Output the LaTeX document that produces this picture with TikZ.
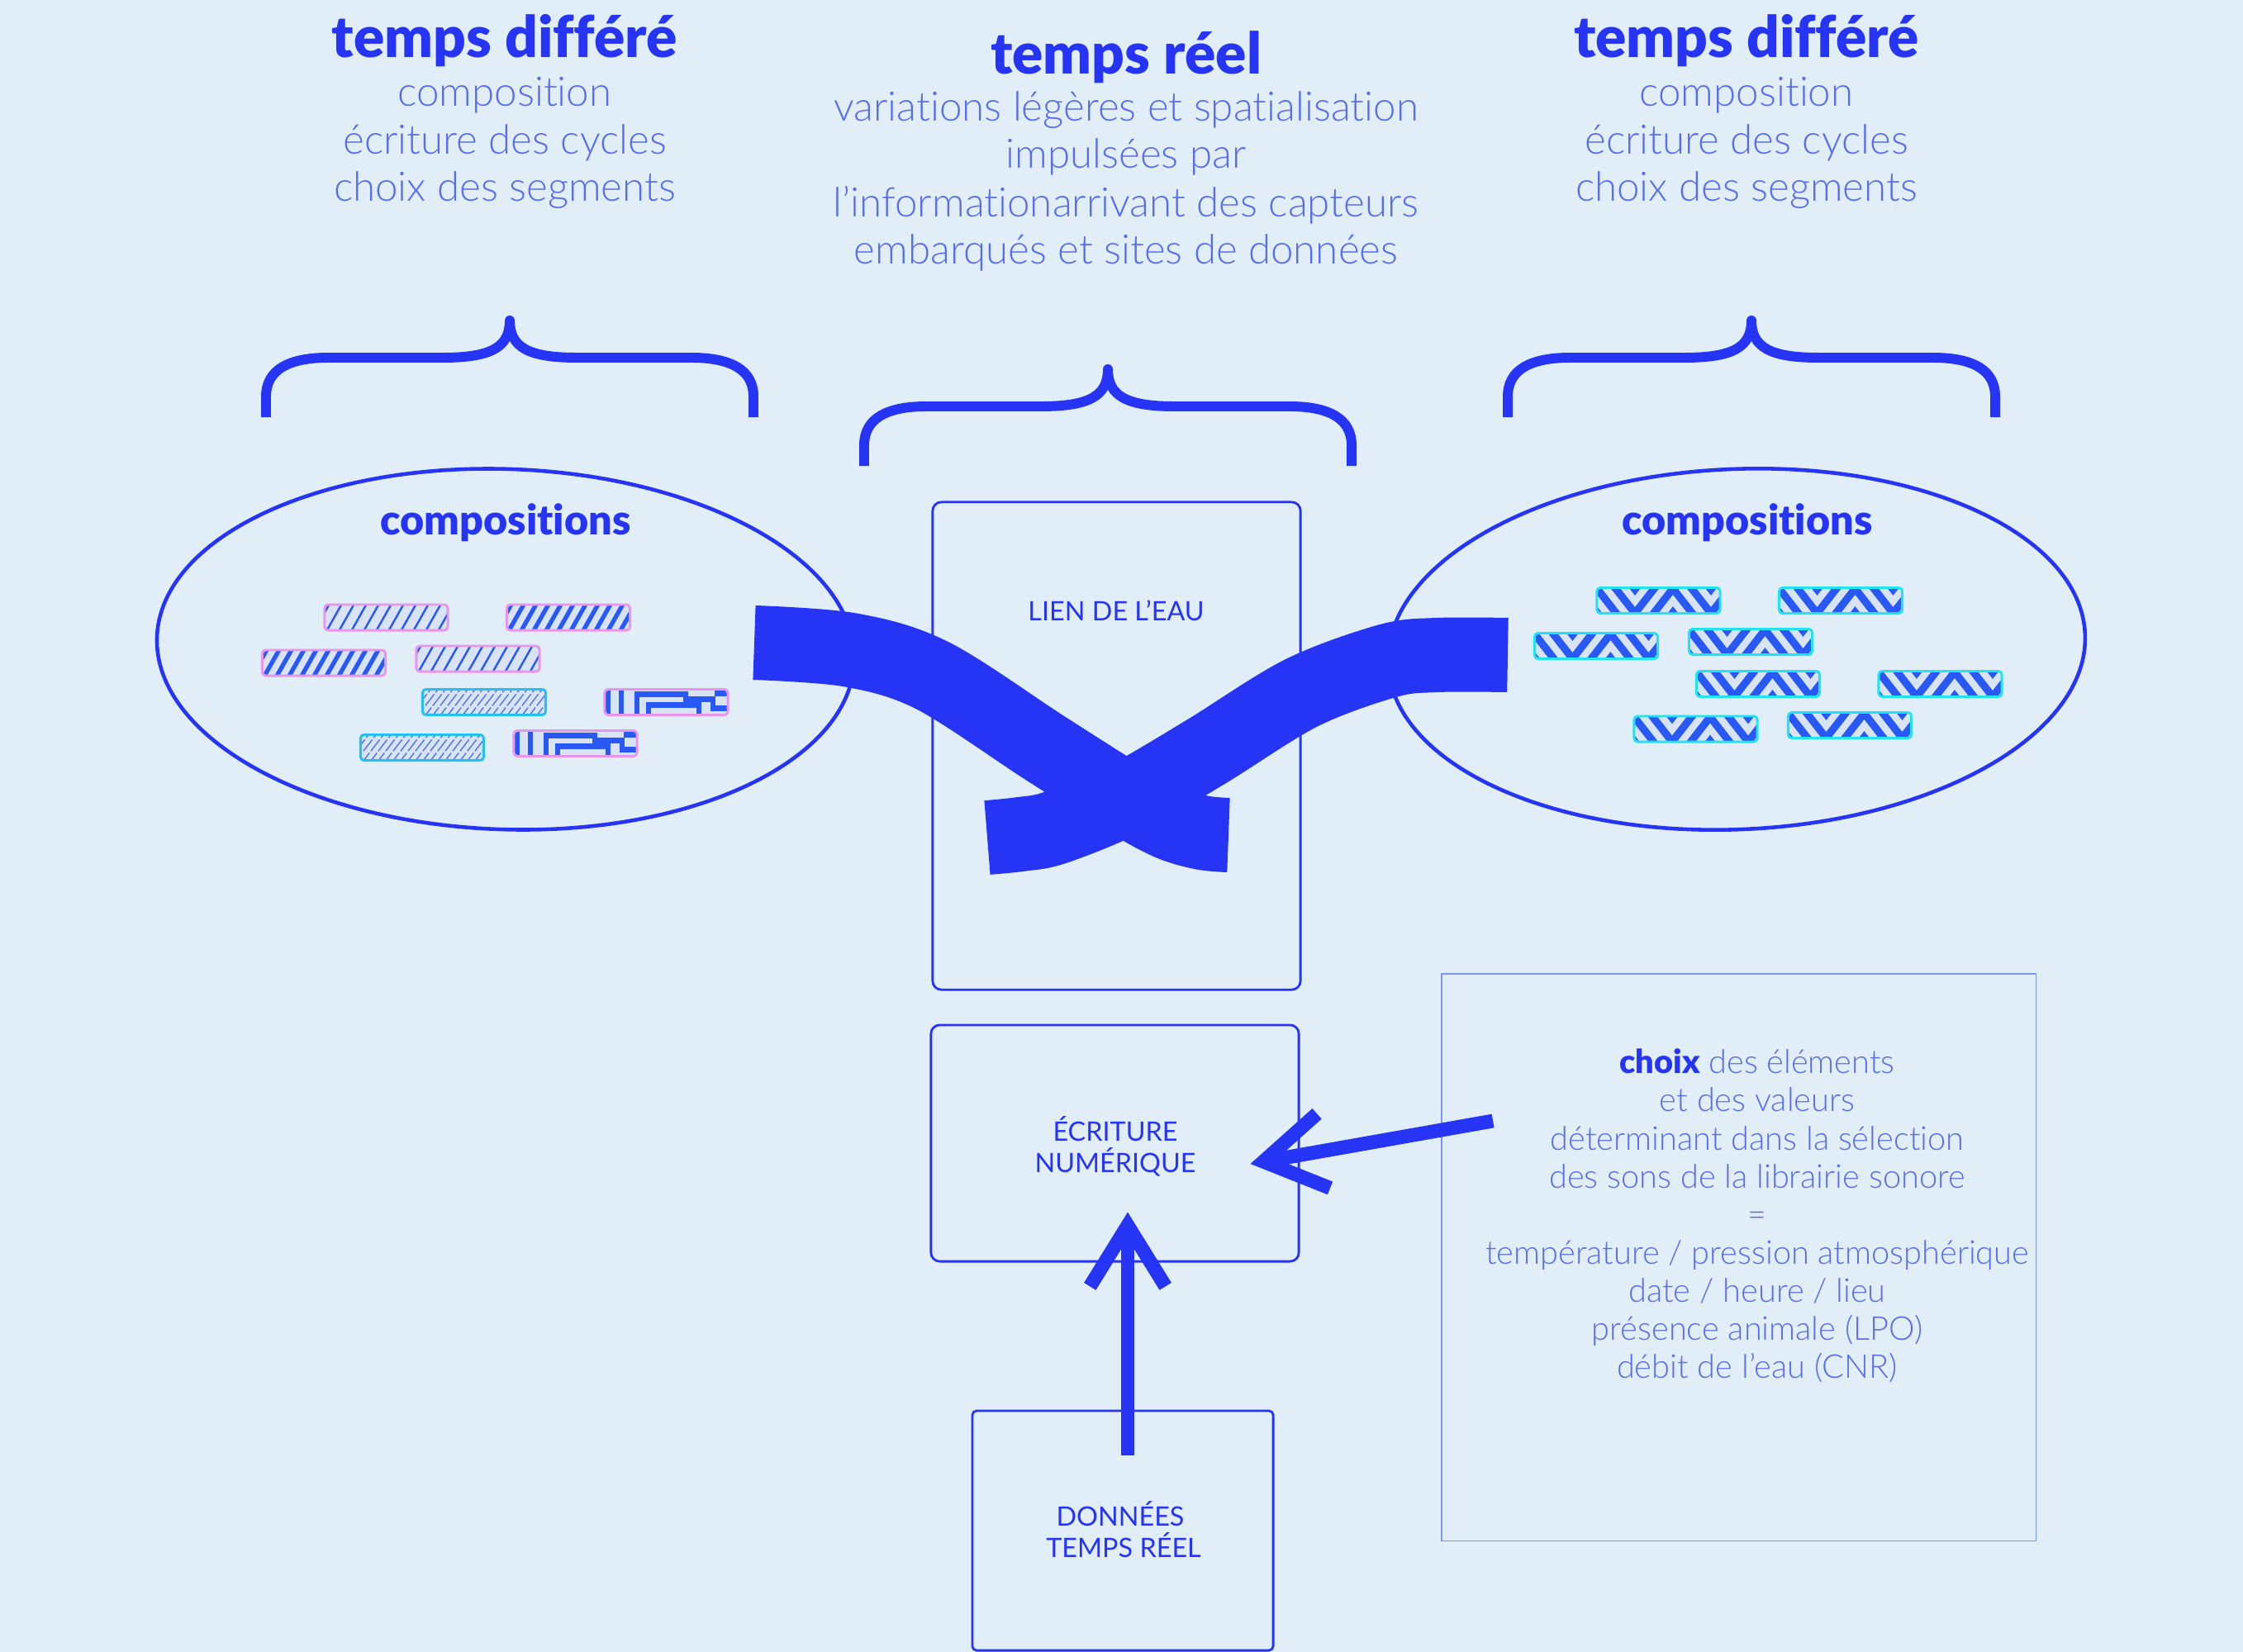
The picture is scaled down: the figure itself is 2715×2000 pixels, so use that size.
\documentclass[tikz,border=0pt]{standalone}
\usepackage{fontspec}
\setmainfont{Lato}[Ligatures=NoCommon]
\newfontfamily\lightfont{Lato Light}[Ligatures=NoCommon]
\newfontfamily\heavyfont{Lato Black}[Ligatures=NoCommon]
\usetikzlibrary{arrows.meta,shapes.geometric}
\definecolor{bgc}{RGB}{225,238,247}
\definecolor{mainblue}{RGB}{38,52,246}
\definecolor{lighttext}{RGB}{88,108,241}
\definecolor{infoborder}{RGB}{128,148,240}
\definecolor{pblue}{RGB}{40,88,245}
\definecolor{pblue2}{RGB}{80,118,238}
\definecolor{pinkb}{RGB}{232,150,236}
\definecolor{cyanb}{RGB}{38,192,240}
\definecolor{turq}{RGB}{34,228,240}
\definecolor{boxfill}{RGB}{216,228,246}
% pattern drawing codes (coordinates relative to the box's north west corner, y downwards)
\newcommand\thinpat{\foreach \k in {-3,...,11} \draw[pblue,line width=0.7pt] ({\k*15},36) -- ++(22,-39);}
\newcommand\thickpat{\foreach \k in {-3,...,11} \draw[pblue,line width=1.5pt] ({\k*15},36) -- ++(22,-39);}
\newcommand\roughpat{\foreach \k in {-5,...,17} \draw[pblue2,line width=0.4pt,dash pattern=on 5pt off 0.8pt] ({\k*9},36) -- ++(30,-39);}
\newcommand\mazepat{\begin{scope}[pblue,line width=1.8pt]
    \draw (4,-2) -- (4,36);
    \draw (20,-2) -- (20,36);
    \draw (39,36) -- (39,6) -- (98,6) -- (98,12) -- (131,12) -- (131,23) -- (156,23);
    \draw (53,36) -- (53,19) -- (114,19) -- (114,36);
    \draw (136,-2) -- (136,5) -- (156,5);
    \end{scope}}
\newcommand\zigpat{\foreach \n in {-1,0,1,2} \draw[pblue,line width=2.6pt] (-46,{31+29*\n}) -- (0,{-28+29*\n}) -- (46,{31+29*\n}) -- (92,{-28+29*\n}) -- (138,{31+29*\n}) -- (184,{-28+29*\n});}
% #1 node name, #2 position, #3 border colour, #4 pattern
\newcommand\drawpatbox[4]{%
  \node[patbox] (#1) at #2 {};
  \begin{scope}
    \clip[rounded corners=1.2pt] (#1.south west) rectangle (#1.north east);
    \begin{scope}[shift={(#1.north west)}] #4 \end{scope}
  \end{scope}
  \draw[draw=#3,line width=0.85pt,rounded corners=1.2pt] (#1.south west) rectangle (#1.north east);
}
\begin{document}
\begin{tikzpicture}[x=0.01cm,y=-0.01cm,
  hbold/.style={text=mainblue,font=\heavyfont\fontsize{19.7}{23}\selectfont,inner sep=0pt,anchor=base},
  subline/.style={text=lighttext,font=\lightfont\fontsize{14}{17}\selectfont,inner sep=0pt,anchor=base},
  compo/.style={text=mainblue,font=\heavyfont\fontsize{14.3}{17}\selectfont,inner sep=0pt,anchor=base},
  boxlabel/.style={text=mainblue,font=\fontsize{9.2}{11}\selectfont,inner sep=0pt,anchor=base},
  infoline/.style={text=lighttext,font=\lightfont\fontsize{11.3}{13}\selectfont,inner sep=0pt,anchor=base},
  bracestyle/.style={draw=mainblue,line width=3.4pt,line cap=butt,line join=round},
  bracepic/.pic={\draw[bracestyle] (-295,117) -- (-295,92) .. controls (-295,60) and (-268,45) .. (-220,45) -- (-81,45) .. controls (-22,45) and (0,32) .. (0,0) .. controls (0,32) and (22,45) .. (81,45) -- (220,45) .. controls (268,45) and (295,60) .. (295,92) -- (295,117);},
  ell/.style={ellipse,draw=mainblue,line width=1.3pt,minimum width=8.44cm,minimum height=4.36cm,inner sep=0pt},
  bigbox/.style={rectangle,draw=mainblue,line width=0.8pt,rounded corners=3pt,inner sep=0pt},
  patbox/.style={rectangle,minimum width=1.49cm,minimum height=0.31cm,inner sep=0pt,outer sep=0pt,fill=boxfill,rounded corners=1.2pt},
  bandstyle/.style={draw=mainblue,line width=25.6pt,line cap=butt,line join=round},
  bigarrow/.style={draw=mainblue,line width=4.8pt,-{Straight Barb[length=21pt,width=26pt]}}
]
\fill[bgc] (0,0) rectangle (2715,2000);
\useasboundingbox (0,0) rectangle (2715,2000);

% braces
\pic at (617,388) {bracepic};
\pic at (1341,447) {bracepic};
\pic at (2120,388) {bracepic};

% top texts
\node[hbold] (tdl) at (611,70) {temps différé};
\node[subline] (tdl1) at (611,129) {composition};
\node[subline] (tdl2) at (611,186) {écriture des cycles};
\node[subline] (tdl3) at (611,244) {choix des segments};
\node[hbold] (trm) at (1363,90) {temps réel};
\node[subline] (trm1) at (1363,147) {variations légères et spatialisation};
\node[subline] (trm2) at (1363,204) {impulsées par};
\node[subline] (trm3) at (1363,262) {l’informationarrivant des capteurs};
\node[subline] (trm4) at (1363,319) {embarqués et sites de données};
\node[hbold] (tdr) at (2114,70) {temps différé};
\node[subline] (tdr1) at (2114,129) {composition};
\node[subline] (tdr2) at (2114,186) {écriture des cycles};
\node[subline] (tdr3) at (2114,244) {choix des segments};

% ellipses
\node[ell,rotate=-2] (ellL) at (612,786) {};
\node[ell,rotate=2.5] (ellR) at (2102,786) {};
\node[compo] (compL) at (612,647) {compositions};
\node[compo] (compR) at (2115,647) {compositions};

% left pattern boxes
\drawpatbox{lb1}{(467.5,747.5)}{pinkb}{\thinpat}
\drawpatbox{lb2}{(688,747.5)}{pinkb}{\thickpat}
\drawpatbox{lb3}{(392,802.5)}{pinkb}{\thickpat}
\drawpatbox{lb4}{(578.5,797.5)}{pinkb}{\thinpat}
\drawpatbox{lb5}{(586,850)}{cyanb}{\roughpat}
\drawpatbox{lb6}{(806.5,850)}{pinkb}{\mazepat}
\drawpatbox{lb7}{(511,905)}{cyanb}{\roughpat}
\drawpatbox{lb8}{(696.5,900)}{pinkb}{\mazepat}

% right pattern boxes
\drawpatbox{rb1}{(2007.5,727)}{turq}{\zigpat}
\drawpatbox{rb2}{(2228,727)}{turq}{\zigpat}
\drawpatbox{rb3}{(1932,782)}{turq}{\zigpat}
\drawpatbox{rb4}{(2119,777)}{turq}{\zigpat}
\drawpatbox{rb5}{(2128,828)}{turq}{\zigpat}
\drawpatbox{rb6}{(2348.5,828)}{turq}{\zigpat}
\drawpatbox{rb7}{(2052.5,882.5)}{turq}{\zigpat}
\drawpatbox{rb8}{(2239,878)}{turq}{\zigpat}

% central boxes
\node[bigbox,minimum width=4.45cm,minimum height=5.90cm] (lien) at (1351.5,903) {};
\node[boxlabel] (lientxt) at (1351,751) {LIEN DE L’EAU};

% crossing bands
\draw[bandstyle] plot[smooth,tension=0.55] coordinates {(913,778) (1030,787) (1129,818) (1264,905) (1362,967) (1415,996) (1455,1008) (1487,1011)};
\draw[bandstyle] plot[smooth,tension=0.55] coordinates {(1825,793) (1740,793) (1680,800) (1575,839) (1460,910) (1362,967) (1277,1002) (1235,1010) (1195,1014)};

\node[bigbox,minimum width=4.45cm,minimum height=2.86cm] (ecr) at (1349.5,1384) {};
\node[boxlabel] (ecrtxt1) at (1350,1381) {ÉCRITURE};
\node[boxlabel] (ecrtxt2) at (1350,1419) {NUMÉRIQUE};
\node[bigbox,rounded corners=1.5pt,minimum width=3.64cm,minimum height=2.90cm] (donnees) at (1359,1853) {};
\node[boxlabel] (dontxt1) at (1356,1847) {DONNÉES};
\node[boxlabel] (dontxt2) at (1360,1885) {TEMPS RÉEL};

% info box
\node[rectangle,draw=infoborder,line width=0.4pt,minimum width=7.19cm,minimum height=6.86cm,inner sep=0pt] (info) at (2104.5,1522) {};
\node[infoline] (inf0) at (2127,1299) {{\heavyfont\color{mainblue}choix} des éléments};
\node[infoline] (inf1) at (2127,1345) {et des valeurs};
\node[infoline] (inf2) at (2127,1392) {déterminant dans la sélection};
\node[infoline] (inf3) at (2127,1438) {des sons de la librairie sonore};
\node[infoline] (inf4) at (2127,1484) {=};
\node[infoline] (inf5) at (2127,1530) {température / pression atmosphérique};
\node[infoline] (inf6) at (2127,1576) {date / heure / lieu};
\node[infoline] (inf7) at (2127,1622) {présence animale (LPO)};
\node[infoline] (inf8) at (2127,1668) {débit de l’eau (CNR)};

% arrows
\draw[bigarrow] ([shift={(6,55)}]donnees.north) -- ([shift={(15.5,-61)}]ecr.south);
\draw[bigarrow] ([shift={(63,-165)}]info.west) -- ([shift={(-60,25)}]ecr.east);
\end{tikzpicture}
\end{document}
